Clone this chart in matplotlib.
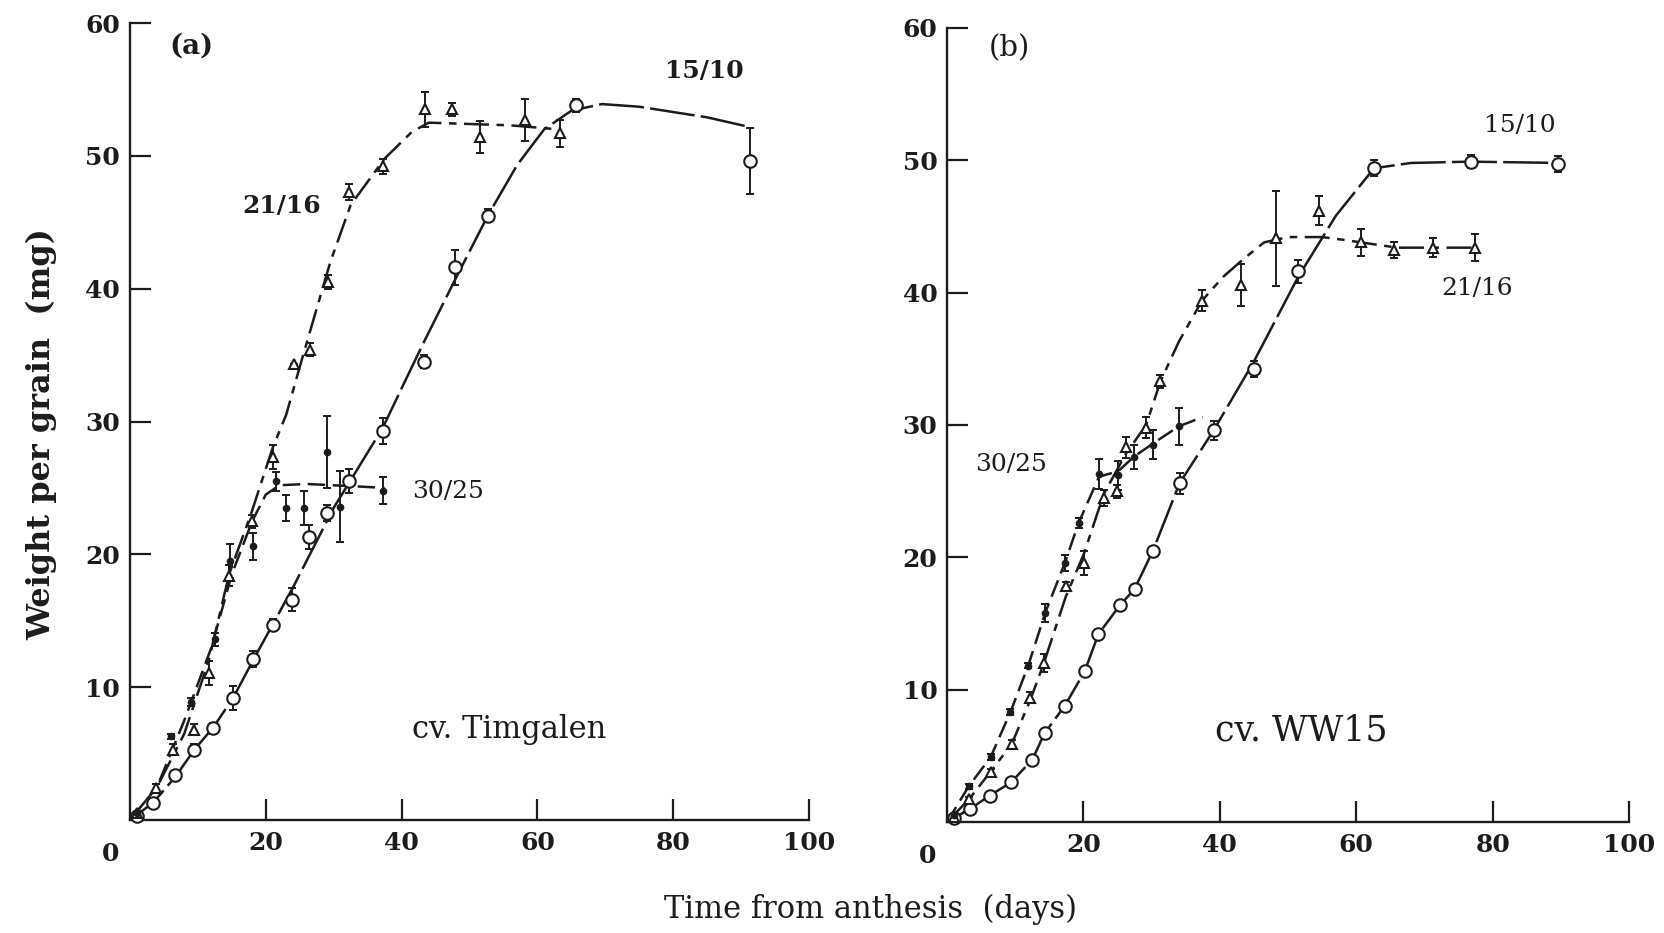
"""
Grain weight vs time from anthesis, two cultivars, three temperature regimes.
Values read off the scanned figure.
"""
import matplotlib
matplotlib.use("Agg")
import matplotlib.pyplot as plt

plt.rcParams["font.family"] = ["DejaVu Serif"]

# ---- panel (a) cv. Timgalen : measured points ----
a_1510_x = [1, 3.4, 6.6, 9.5, 12.3, 15.2, 18.1, 21, 23.8, 26.3, 29, 32.2, 37.2, 43.3, 47.8, 52.7, 65.7, 91.3]
a_1510_y = [0.3, 1.3, 3.4, 5.3, 6.9, 9.2, 12.1, 14.7, 16.6, 21.3, 23.1, 25.5, 29.3, 34.5, 41.6, 45.5, 53.8, 49.6]
a_1510_e = [0, 0.3, 0.3, 0.4, 0.4, 0.9, 0.6, 0.4, 0.9, 0.9, 0.6, 0.9, 1.0, 0.5, 1.3, 0.5, 0.5, 2.5]

a_2116_x = [1, 3.8, 6.4, 9.5, 11.6, 14.6, 17.9, 21.1, 24.1, 26.5, 29.1, 32.3, 37.2, 43.4, 47.4, 51.6, 58.2, 63.4]
a_2116_y = [0.5, 2.4, 5.3, 6.8, 11.1, 18.4, 22.5, 27.3, 34.3, 35.4, 40.5, 47.3, 49.2, 53.5, 53.5, 51.4, 52.7, 51.7]
a_2116_e = [0, 0.3, 0.4, 0.4, 0.9, 0.8, 0.5, 0.9, 0, 0.5, 0.5, 0.6, 0.6, 1.3, 0.5, 1.2, 1.6, 1.0]

a_3025_x = [1, 6.1, 9.0, 12.5, 14.8, 18.1, 21.5, 23, 25.7, 29, 31, 37.2]
a_3025_y = [0.5, 6.3, 8.9, 13.6, 19.5, 20.6, 25.5, 23.5, 23.5, 27.7, 23.6, 24.8]
a_3025_e = [0, 0.2, 0.3, 0.5, 1.3, 1.0, 0.7, 1.0, 1.3, 2.7, 2.7, 1.0]

# ---- panel (a) fitted curves ----
a_1510_cx = [0, 3.4, 6.6, 9.5, 12.3, 15.2, 18.1, 21, 24, 27, 30, 33, 37.2, 40, 43.3, 47.8, 52.7, 57, 61, 65, 69.5, 75, 80, 85, 91]
a_1510_cy = [0, 1.3, 3.2, 5.3, 7.0, 9.2, 12, 14.7, 17.5, 20.5, 23.5, 26, 29.5, 32.5, 36, 40.6, 45.5, 49.3, 52, 53.4, 53.9, 53.7, 53.3, 52.9, 52.2]
a_2116_cx = [0, 4, 8, 11.6, 14.6, 17.8, 21, 23, 25.5, 29.5, 32.5, 37.5, 41.5, 44, 50, 56, 63]
a_2116_cy = [0, 2.5, 6.5, 12, 18.5, 23, 28, 30.5, 35, 42, 46.3, 49.8, 51.8, 52.5, 52.4, 52.3, 52]
a_3025_cx = [0, 4, 8, 12, 15, 18, 20, 22, 26, 30, 34, 37.5]
a_3025_cy = [0, 2.5, 7.5, 13, 18.5, 22.5, 24.5, 25.2, 25.3, 25.2, 25.1, 25]

# ---- panel (b) cv. WW15 : measured points ----
b_1510_x = [1, 3.4, 6.3, 9.4, 12.5, 14.3, 17.3, 20.2, 22.2, 25.4, 27.5, 30.2, 34.1, 39.1, 45, 51.5, 62.6, 76.8, 89.6]
b_1510_y = [0.3, 1.0, 2.0, 3.0, 4.7, 6.7, 8.8, 11.4, 14.2, 16.4, 17.6, 20.5, 25.6, 29.6, 34.2, 41.6, 49.4, 49.9, 49.7]
b_1510_e = [0, 0.2, 0.2, 0.2, 0.2, 0.2, 0.2, 0.2, 0.2, 0.2, 0.2, 0.2, 0.8, 0.7, 0.6, 0.9, 0.6, 0.5, 0.6]

b_2116_x = [1, 3.2, 6.4, 9.5, 12.2, 14.2, 17.4, 20.1, 23, 24.9, 26.2, 29.2, 31.3, 37.4, 43.1, 48.3, 54.5, 60.7, 65.6, 71.3, 77.4]
b_2116_y = [0.4, 1.7, 3.8, 5.9, 9.4, 12.0, 17.8, 19.6, 24.5, 25, 28.3, 29.8, 33.3, 39.4, 40.6, 44.1, 46.2, 43.8, 43.2, 43.4, 43.4]
b_2116_e = [0, 0.2, 0.2, 0.3, 0.4, 0.7, 0.3, 0.9, 0.6, 0.5, 0.8, 0.8, 0.5, 0.8, 1.6, 3.6, 1.1, 1.0, 0.6, 0.7, 1.0]

b_3025_x = [1, 3.2, 6.4, 9.3, 11.9, 14.4, 17.3, 19.3, 22.3, 25.1, 27.4, 30.2, 34.0]
b_3025_y = [0.5, 2.7, 4.9, 8.3, 11.8, 15.8, 19.6, 22.6, 26.3, 26.2, 27.6, 28.5, 29.9]
b_3025_e = [0, 0.2, 0.2, 0.2, 0.2, 0.7, 0.6, 0.4, 1.1, 1.1, 0.9, 1.1, 1.4]

# ---- panel (b) fitted curves ----
b_1510_cx = [0, 3.4, 6.3, 9.4, 12.5, 14.3, 17.3, 20.2, 22.2, 25.4, 27.5, 30.2, 34.1, 39.1, 45, 51.5, 57, 62.6, 68, 76.8, 90]
b_1510_cy = [0, 1, 2, 3, 4.7, 6.7, 8.8, 11.4, 14.2, 16.4, 17.6, 20.5, 25.6, 29.6, 34.8, 41.2, 45.8, 49.4, 49.8, 49.9, 49.8]
b_2116_cx = [0, 3.2, 6.4, 9.5, 12.2, 14.2, 17.4, 20.1, 23, 26.2, 29.2, 31.3, 34, 37.4, 40.5, 43.6, 46.5, 50, 55, 58, 62, 66, 71, 77.4]
b_2116_cy = [0, 1.7, 3.8, 5.9, 9.2, 12, 17, 20.3, 24.8, 27.8, 30, 33.3, 36.3, 39.4, 41.2, 42.6, 43.8, 44.2, 44.2, 44, 43.7, 43.4, 43.4, 43.4]
b_3025_cx = [0, 3.2, 6.4, 9.3, 11.9, 14.4, 17.3, 19.3, 22.3, 25.1, 27.4, 30.2, 34, 37.5]
b_3025_cy = [0, 2.7, 4.9, 8.3, 11.8, 15.8, 19.6, 22.6, 26.1, 26.5, 27.6, 28.6, 29.9, 30.6]

INK = "#1c1c1c"
STYLE = {
    "1510": dict(marker="o", ms=9, mfc="white", ls=(0, (18, 2.5))),
    "2116": dict(marker="^", ms=7, mfc="white", ls=(0, (10, 3, 3, 3))),
    "3025": dict(marker="o", ms=4, mfc=INK, ls=(0, (7, 3))),
}


def draw_series(ax, key, cx, cy, x, y, e):
    st = STYLE[key]
    ax.plot(cx, cy, color=INK, lw=1.8, ls=st["ls"], clip_on=False, zorder=2)
    ax.errorbar(x, y, yerr=e, fmt="none", ecolor=INK, elinewidth=1.4,
                capsize=3, capthick=1.4, clip_on=False, zorder=3)
    ax.plot(x, y, ls="none", marker=st["marker"], ms=st["ms"], mfc=st["mfc"],
            mec=INK, mew=1.5, clip_on=False, zorder=4)


def style_axes(ax):
    ax.set_xlim(0, 100)
    ax.set_ylim(0, 60)
    for s in ("top", "right"):
        ax.spines[s].set_visible(False)
    for s in ("left", "bottom"):
        ax.spines[s].set_linewidth(1.7)
        ax.spines[s].set_color(INK)
    ax.set_xticks([20, 40, 60, 80, 100])
    ax.set_yticks([10, 20, 30, 40, 50, 60])
    ax.tick_params(direction="in", length=15, width=1.6, color=INK,
                   labelsize=18, labelcolor=INK)
    ax.tick_params(axis="x", pad=8)
    ax.tick_params(axis="y", pad=7)
    for lab in ax.get_xticklabels() + ax.get_yticklabels():
        lab.set_fontweight("bold")
    ax.text(-2.8, -0.028, "0", transform=ax.get_xaxis_transform(), ha="center",
            va="top", fontsize=18, fontweight="bold", color=INK)


fig = plt.figure(figsize=(16.64, 9.33), dpi=100)
ax_a = fig.add_axes([0.0781, 0.1211, 0.4081, 0.8542])
ax_b = fig.add_axes([0.5691, 0.1190, 0.4099, 0.8510])

draw_series(ax_a, "1510", a_1510_cx, a_1510_cy, a_1510_x, a_1510_y, a_1510_e)
draw_series(ax_a, "2116", a_2116_cx, a_2116_cy, a_2116_x, a_2116_y, a_2116_e)
draw_series(ax_a, "3025", a_3025_cx, a_3025_cy, a_3025_x, a_3025_y, a_3025_e)

draw_series(ax_b, "1510", b_1510_cx, b_1510_cy, b_1510_x, b_1510_y, b_1510_e)
draw_series(ax_b, "2116", b_2116_cx, b_2116_cy, b_2116_x, b_2116_y, b_2116_e)
draw_series(ax_b, "3025", b_3025_cx, b_3025_cy, b_3025_x, b_3025_y, b_3025_e)

for ax in (ax_a, ax_b):
    style_axes(ax)

tka = dict(fontsize=18, fontweight="bold", color=INK, ha="center", va="center")
tkb = dict(fontsize=18, color=INK, ha="center", va="center")
ax_a.text(9, 58.3, "(a)", fontsize=20, fontweight="bold", color=INK, ha="center", va="center")
ax_a.text(84.6, 56.4, "15/10", **tka)
ax_a.text(22.4, 46.2, "21/16", **tka)
ax_a.text(46.8, 24.7, "30/25", **tkb)
ax_a.text(55.8, 6.8, "cv. Timgalen", fontsize=22, color=INK, ha="center", va="center")

ax_b.text(9.1, 58.5, "(b)", fontsize=21, color=INK, ha="center", va="center")
ax_b.text(84, 52.6, "15/10", **tkb)
ax_b.text(77.7, 40.3, "21/16", **tkb)
ax_b.text(9.4, 27, "30/25", **tkb)
ax_b.text(52, 6.9, "cv. WW15", fontsize=25, color=INK, ha="center", va="center")

fig.text(0.025, 0.535, "Weight per grain  (mg)", rotation=90, fontsize=23,
         fontweight="bold", color=INK, ha="center", va="center")
fig.text(0.523, 0.025, "Time from anthesis  (days)", fontsize=22,
         color=INK, ha="center", va="center")

fig.savefig("out.png", dpi=100, facecolor="white")
